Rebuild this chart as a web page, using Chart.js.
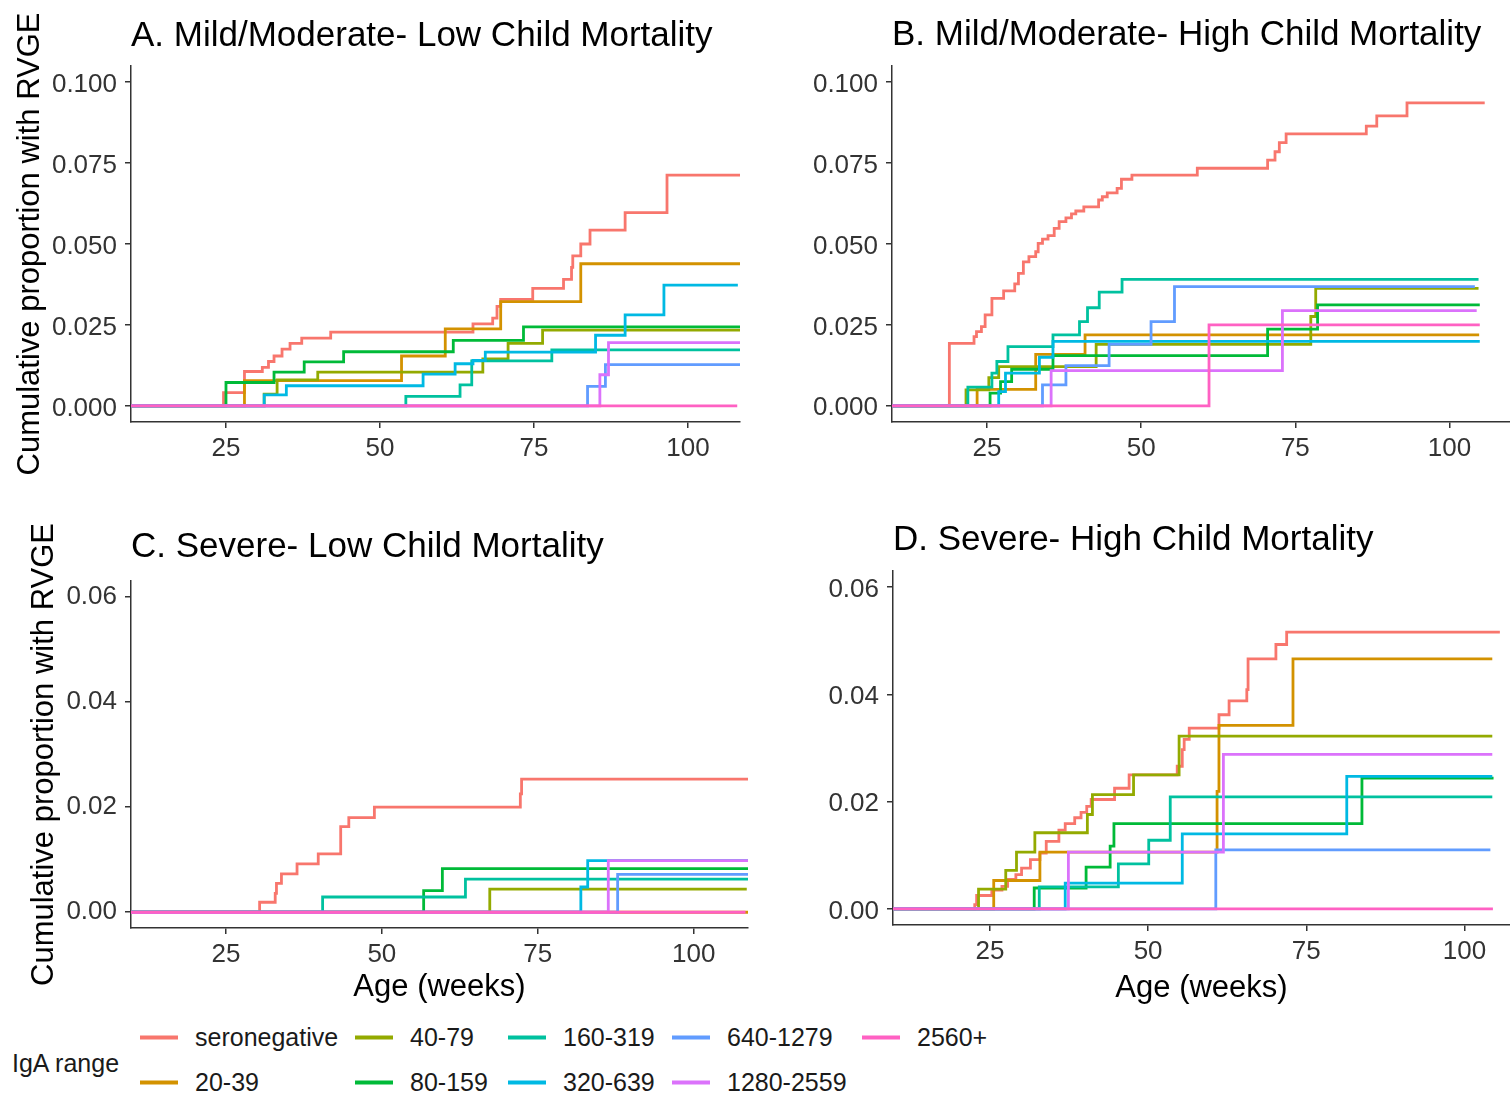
<!DOCTYPE html>
<html>
<head>
<meta charset="utf-8">
<script src="https://cdn.jsdelivr.net/npm/chart.js@4.4.1/dist/chart.umd.min.js"></script>
<style>
  body { margin: 0; background: #fff; width: 1510px; height: 1100px; position: relative; overflow: hidden;
         font-family: "Liberation Sans", Arial, sans-serif; }
  canvas { position: absolute; }
  .lg-title { position: absolute; left: 12px; top: 1063px; transform: translateY(-50%); font-size: 25px; color: #1a1a1a; }
  .lg-item { position: absolute; transform: translateY(-50%); font-size: 25px; color: #1a1a1a; white-space: nowrap; }
  .lg-swatch { position: absolute; top: 50%; width: 38px; height: 4px; margin-top: -2px; }
</style>
</head>
<body>
<canvas id="panelA" width="745" height="490" style="left:0;top:0"></canvas>
<canvas id="panelB" width="750" height="490" style="left:760px;top:0"></canvas>
<canvas id="panelC" width="760" height="520" style="left:0;top:490px"></canvas>
<canvas id="panelD" width="750" height="520" style="left:760px;top:490px"></canvas>
<div id="legend"></div>
<script>
const fontFam = '"Liberation Sans", Arial, sans-serif';

const seriesNames = ['seronegative', '20-39', '40-79', '80-159', '160-319', '320-639', '640-1279', '1280-2559', '2560+'];
const seriesColors = ['#F8766D', '#D39200', '#93AA00', '#00BA38', '#00C19F', '#00B9E3', '#619CFF', '#DB72FB', '#FF61C3'];

const weekTicks = [25, 50, 75, 100];
const propTicksTop = [0, 0.025, 0.05, 0.075, 0.1];
const propTicksBottom = [0, 0.02, 0.04, 0.06];

// step points [age in weeks, cumulative proportion], one list per IgA range
const stepsA = [
  [[24.6,.0041],[28.0,.0106],[30.9,.0119],[31.9,.0137],[32.8,.0154],[34.1,.0175],[35.4,.0193],[37.3,.0209],[42.0,.0228],
   [65.1,.0253],[68.3,.0271],[69.0,.0307],[69.6,.0329],[74.8,.0363],[79.8,.0391],[81.1,.0428],[81.3,.0463],[82.6,.05],
   [84.1,.0543],[89.8,.0597],[96.6,.0713]],
  [[28.0,.0078],[53.5,.0154],[60.6,.0238],[69.6,.0322],[82.6,.0439]],
  [[31.2,.0036],[33.3,.008],[39.9,.0104],[66.7,.0145],[70.8,.0193],[76.4,.0234]],
  [[25.0,.0072],[32.8,.0104],[37.7,.0136],[44.1,.0167],[61.9,.0202],[73.3,.0244]],
  [[54.2,.0029],[63.0,.0065],[64.9,.0139],[77.9,.0173]],
  [[31.2,.0034],[34.8,.0062],[57.0,.0098],[62.2,.013],[65.1,.014],[67.1,.0166],[85.0,.0218],[89.8,.0281],[96.1,.0373]],
  [[83.7,.006],[86.6,.0127]],
  [[85.7,.0096],[87.1,.0195]],
  []
];
const endsA = [108.45, 108.45, 108.45, 108.45, 108.45, 108.1, 108.45, 108.45, 108.0];

const stepsB = [
  [[18.9,.0193],[22.9,.0214],[23.3,.0229],[24.1,.0245],[24.7,.0281],[25.8,.0332],[27.7,.0355],[29.5,.0377],[30.1,.0409],
   [30.9,.0445],[31.8,.0461],[32.9,.0476],[33.3,.0502],[34.0,.0515],[34.9,.0526],[35.9,.0548],[36.7,.0569],[37.8,.0581],
   [38.7,.0593],[39.4,.0602],[40.7,.0615],[43.1,.0636],[43.7,.0646],[44.5,.0658],[46.1,.0672],[46.8,.07],[48.5,.0713],
   [59.1,.0734],[70.5,.0759],[71.7,.0785],[72.4,.0813],[73.5,.084],[86.5,.0864],[88.2,.0896],[93.1,.0936]],
  [[23.4,.0051],[32.9,.0159],[40.9,.0219]],
  [[21.6,.0049],[25.3,.0087],[26.9,.0121],[42.7,.019],[77.5,.0276],[78.3,.0363]],
  [[25.5,.0039],[27.2,.0075],[29.0,.0113],[35.7,.0155],[70.5,.0237],[78.6,.0312]],
  [[21.9,.0058],[25.8,.0101],[26.6,.0137],[28.4,.0183],[35.7,.0219],[40.0,.026],[41.3,.0303],[43.2,.0351],[46.9,.0391]],
  [[26.9,.0044],[28.0,.0101],[33.5,.015],[35.7,.0199]],
  [[34.0,.0065],[37.8,.0124],[44.8,.019],[51.6,.026],[55.4,.0368]],
  [[35.4,.0109],[72.9,.0294]],
  [[61.0,.025]]
];
const endsB = [105.7, 104.8, 104.7, 104.9, 104.7, 104.9, 104.1, 104.4, 104.9];

const stepsC = [
  [[30.4,.0019],[32.9,.0036],[33.1,.0055],[33.9,.0073],[36.4,.0092],[39.8,.0111],[43.4,.0163],[44.7,.018],[48.8,.020],
   [72.2,.0225],[72.4,.0253]],
  [],
  [[67.3,.0044]],
  [[56.7,.0041],[59.7,.0083]],
  [[40.5,.0029],[63.4,.0063]],
  [[81.9,.0048],[83.0,.0098]],
  [[87.8,.0072]],
  [[86.3,.0098]],
  []
];
const endsC = [108.7, 108.7, 108.5, 108.7, 108.7, 108.7, 108.7, 108.7, 108.3];

const stepsD = [
  [[22.6,.0008],[22.9,.0025],[25.3,.0035],[26.9,.0042],[27.8,.0055],[29.1,.0064],[30.0,.0076],[31.4,.0092],[32.9,.0104],
   [33.9,.0126],[35.9,.0147],[36.9,.0159],[38.4,.017],[39.4,.018],[40.3,.0191],[41.0,.0204],[44.7,.0225],[47.0,.025],
   [54.6,.0266],[55.4,.0297],[55.7,.0316],[56.5,.0337],[61.2,.0362],[62.8,.0388],[65.6,.0409],[65.8,.0466],[70.2,.0493],
   [71.9,.0516]],
  [[25.6,.0053],[32.9,.0106],[60.9,.0219],[61.2,.0342],[72.9,.0466]],
  [[23.2,.0037],[27.5,.0072],[29.2,.0106],[32.1,.0142],[40.4,.0176],[41.2,.0213],[47.7,.025],[54.9,.0322]],
  [[32.0,.0039],[40.2,.0078],[44.0,.0117],[44.6,.0159],[83.8,.0244]],
  [[32.8,.0041],[45.3,.0084],[50.1,.0128],[53.5,.0209]],
  [[36.9,.0048],[55.4,.014],[81.4,.0247]],
  [[60.7,.011]],
  [[37.4,.0106],[61.9,.0288]],
  []
];
const endsD = [105.6, 104.4, 104.4, 104.6, 104.4, 104.4, 104.1, 104.4, 104.5];

function buildDatasets(steps, ends, xMin) {
  return seriesNames.map((name, i) => {
    const pts = [{x: xMin, y: 0}];
    steps[i].forEach(p => pts.push({x: p[0], y: p[1]}));
    pts.push({x: ends[i], y: pts[pts.length - 1].y});
    return {
      label: name,
      data: pts,
      borderColor: seriesColors[i],
      borderWidth: 2.8,
      pointRadius: 0,
      stepped: true,
      fill: false,
      order: seriesNames.length - i   // later groups drawn on top, like ggplot
    };
  });
}

function makeChart(id, o) {
  const axisColor = '#333333';
  new Chart(document.getElementById(id), {
    type: 'line',
    data: { datasets: buildDatasets(o.steps, o.ends, o.xMin) },
    options: {
      responsive: false,
      animation: false,
      events: [],
      layout: { padding: o.pad },
      plugins: {
        legend: { display: false },
        tooltip: { enabled: false },
        title: {
          display: true, text: o.title, align: 'start', fullSize: false, color: '#000',
          font: { size: 35, family: fontFam, weight: 'normal', lineHeight: 1.2 },
          padding: o.titlePad
        }
      },
      scales: {
        x: {
          type: 'linear', min: o.xMin, max: o.xMax,
          afterBuildTicks: s => { s.ticks = weekTicks.map(v => ({value: v})); },
          afterFit: s => { s.height = o.xHeight; },
          ticks: { color: '#333', padding: 5, font: { size: 26, family: fontFam }, callback: v => String(v) },
          grid: { display: true, drawOnChartArea: false, drawTicks: true, tickLength: 6, color: axisColor, lineWidth: 1.5 },
          border: { display: true, color: axisColor, width: 1.5 },
          title: { display: o.xTitle, text: 'Age (weeks)', color: '#000', padding: 0,
                   font: { size: 31, family: fontFam, lineHeight: 1.2 } }
        },
        y: {
          type: 'linear', min: o.yMin, max: o.yMax,
          afterBuildTicks: s => { s.ticks = o.yTicks.map(v => ({value: v})); },
          afterFit: s => { s.width = o.yWidth; },
          ticks: { color: '#333', padding: 8, labelOffset: o.yLabelShift, font: { size: 26, family: fontFam },
                   callback: v => v.toFixed(o.decimals) },
          grid: { display: true, drawOnChartArea: false, drawTicks: true, tickLength: 6, color: axisColor, lineWidth: 1.5 },
          border: { display: true, color: axisColor, width: 1.5 },
          title: { display: o.yTitle, text: 'Cumulative proportion with RVGE', color: '#000', padding: 0,
                   font: { size: 31, family: fontFam, lineHeight: 1.2 } }
        }
      }
    }
  });
}

makeChart('panelA', {
  title: 'A. Mild/Moderate- Low Child Mortality', steps: stepsA, ends: endsA,
  xMin: 9.58, xMax: 108.45, yMin: -0.005, yMax: 0.105, yTicks: propTicksTop, decimals: 3, yLabelShift: 3,
  pad: { left: 12, right: 5, top: 0, bottom: 0 }, titlePad: { top: 15.8, bottom: 8.2 },
  yWidth: 119, xHeight: 68, xTitle: false, yTitle: true
});
makeChart('panelB', {
  title: 'B. Mild/Moderate- High Child Mortality', steps: stepsB, ends: endsB,
  xMin: 9.6, xMax: 109.8, yMin: -0.005, yMax: 0.105, yTicks: propTicksTop, decimals: 3, yLabelShift: 2.5,
  pad: { left: 0, right: 0, top: 0, bottom: 0 }, titlePad: { top: 14, bottom: 10 },
  yWidth: 132, xHeight: 68, xTitle: false, yTitle: false
});
makeChart('panelC', {
  title: 'C. Severe- Low Child Mortality', steps: stepsC, ends: endsC,
  xMin: 9.78, xMax: 108.7, yMin: -0.003, yMax: 0.063, yTicks: propTicksBottom, decimals: 2, yLabelShift: 0,
  pad: { left: 26, right: 12, top: 0, bottom: 3.5 }, titlePad: { top: 36.5, bottom: 12.5 },
  yWidth: 105, xHeight: 78.5, xTitle: true, yTitle: true
});
makeChart('panelD', {
  title: 'D. Severe- High Child Mortality', steps: stepsD, ends: endsD,
  xMin: 9.68, xMax: 107.2, yMin: -0.003, yMax: 0.063, yTicks: propTicksBottom, decimals: 2, yLabelShift: 2.5,
  pad: { left: 0, right: 0, top: 0, bottom: 3.4 }, titlePad: { top: 29, bottom: 10 },
  yWidth: 133, xHeight: 81.6, xTitle: true, yTitle: false
});

// legend: "IgA range" followed by two rows, filled column by column
const legendCols = [140, 355, 508, 672, 862];
const legendRows = [1037, 1082];
const legend = document.getElementById('legend');
const lgTitle = document.createElement('div');
lgTitle.className = 'lg-title';
lgTitle.textContent = 'IgA range';
legend.appendChild(lgTitle);
seriesNames.forEach((name, i) => {
  const item = document.createElement('div');
  item.className = 'lg-item';
  item.style.left = legendCols[Math.floor(i / 2)] + 'px';
  item.style.top = legendRows[i % 2] + 'px';
  item.style.paddingLeft = '55px';
  const sw = document.createElement('span');
  sw.className = 'lg-swatch';
  sw.style.left = '0px';
  sw.style.background = seriesColors[i];
  item.appendChild(sw);
  item.appendChild(document.createTextNode(name));
  legend.appendChild(item);
});
</script>
</body>
</html>
